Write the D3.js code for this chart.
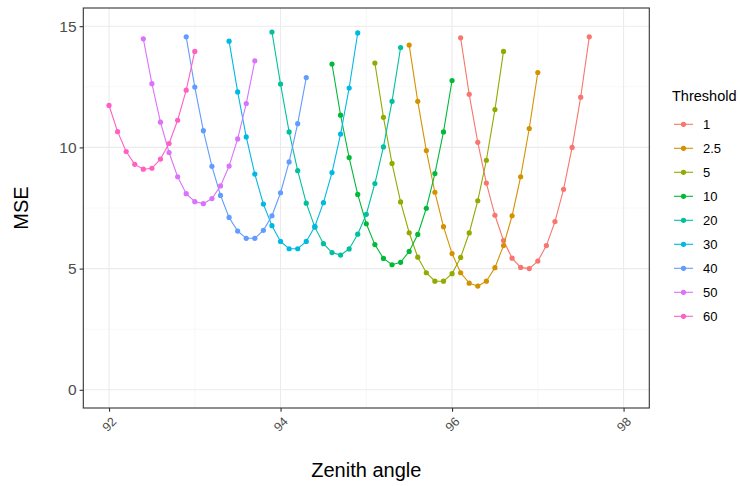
<!DOCTYPE html>
<html>
<head>
<meta charset="utf-8">
<script src="https://cdn.jsdelivr.net/npm/d3@7"></script>
<style>
  html, body { margin: 0; padding: 0; background: #fff; }
  svg { display: block; font-family: "Liberation Sans", Arial, sans-serif; }
</style>
</head>
<body>
<svg id="chart" width="740" height="486"></svg>
<script>
// Threshold levels and their colours
const thresholds = ["1", "2.5", "5", "10", "20", "30", "40", "50", "60"];
const colors = ["#F8766D", "#D39200", "#93AA00", "#00BA38", "#00C19F", "#00B9E3", "#619CFF", "#DB72FB", "#FF61C3"];

// First zenith angle of each curve (angles step by 0.1)
const startAngles = [96.1, 95.5, 95.1, 94.6, 93.9, 93.4, 92.9, 92.4, 92.0];

// MSE values along each curve
const mse1  = [14.52, 12.19, 10.21, 8.53, 7.20, 6.16, 5.43, 5.05, 5.00, 5.31, 5.95, 6.94, 8.27, 10.00, 12.07, 14.56];
const mse25 = [14.22, 11.90, 9.87, 8.15, 6.73, 5.62, 4.83, 4.40, 4.28, 4.48, 5.04, 5.95, 7.18, 8.79, 10.78, 13.09];
const mse5  = [13.48, 11.24, 9.34, 7.75, 6.48, 5.47, 4.83, 4.48, 4.48, 4.79, 5.46, 6.47, 7.80, 9.47, 11.56, 13.96];
const mse10 = [13.44, 11.33, 9.58, 8.06, 6.85, 5.99, 5.42, 5.16, 5.26, 5.71, 6.41, 7.49, 8.92, 10.64, 12.76];
const mse20 = [14.76, 12.61, 10.64, 9.04, 7.70, 6.71, 6.03, 5.66, 5.56, 5.81, 6.42, 7.24, 8.51, 10.02, 11.90, 14.12];
const mse30 = [14.38, 12.29, 10.43, 8.90, 7.66, 6.77, 6.12, 5.82, 5.82, 6.12, 6.74, 7.72, 8.96, 10.55, 12.45, 14.72];
const mse40 = [14.56, 12.49, 10.69, 9.22, 8.02, 7.11, 6.55, 6.25, 6.25, 6.58, 7.18, 8.13, 9.40, 10.98, 12.88];
const mse50 = [14.48, 12.63, 11.04, 9.79, 8.79, 8.09, 7.76, 7.68, 7.89, 8.41, 9.23, 10.35, 11.81, 13.57];
const mse60 = [11.73, 10.65, 9.83, 9.30, 9.10, 9.14, 9.52, 10.16, 11.12, 12.36, 13.96];

const mseValues = [mse1, mse25, mse5, mse10, mse20, mse30, mse40, mse50, mse60];

// Axis ticks
const xTicks = [92, 94, 96, 98];
const xMinor = [93, 95, 97];
const yTicks = [0, 5, 10, 15];
const yMinor = [2.5, 7.5, 12.5];

const series = thresholds.map((t, i) => ({
  name: t,
  color: colors[i],
  points: mseValues[i].map((v, j) => ({ x: +(startAngles[i] + j * 0.1).toFixed(1), y: v }))
}));

const svg = d3.select("#chart");
const panel = { left: 83.3, right: 649.3, top: 8, bottom: 408 };

const x = d3.scaleLinear().domain([91.7, 98.3]).range([panel.left, panel.right]);
const y = d3.scaleLinear().domain([-0.75, 15.75]).range([panel.bottom, panel.top]);

// Panel background and grid
svg.append("rect")
  .attr("x", panel.left).attr("y", panel.top)
  .attr("width", panel.right - panel.left).attr("height", panel.bottom - panel.top)
  .attr("fill", "#fff");

const grid = svg.append("g");
grid.selectAll(".xminor").data(xMinor).join("line")
  .attr("x1", d => x(d)).attr("x2", d => x(d))
  .attr("y1", panel.top).attr("y2", panel.bottom)
  .attr("stroke", "#f2f2f2").attr("stroke-width", 0.55);
grid.selectAll(".yminor").data(yMinor).join("line")
  .attr("y1", d => y(d)).attr("y2", d => y(d))
  .attr("x1", panel.left).attr("x2", panel.right)
  .attr("stroke", "#f2f2f2").attr("stroke-width", 0.55);
grid.selectAll(".xmajor").data(xTicks).join("line")
  .attr("x1", d => x(d)).attr("x2", d => x(d))
  .attr("y1", panel.top).attr("y2", panel.bottom)
  .attr("stroke", "#ebebeb").attr("stroke-width", 1.1);
grid.selectAll(".ymajor").data(yTicks).join("line")
  .attr("y1", d => y(d)).attr("y2", d => y(d))
  .attr("x1", panel.left).attr("x2", panel.right)
  .attr("stroke", "#ebebeb").attr("stroke-width", 1.1);

// Curves and points
const line = d3.line().x(d => x(d.x)).y(d => y(d.y));
const layer = svg.append("g");
series.forEach(s => {
  layer.append("path")
    .datum(s.points)
    .attr("d", line)
    .attr("fill", "none")
    .attr("stroke", s.color)
    .attr("stroke-width", 1.1);
  layer.selectAll(null).data(s.points).join("circle")
    .attr("cx", d => x(d.x)).attr("cy", d => y(d.y))
    .attr("r", 2.6)
    .attr("fill", s.color);
});

// Panel border
svg.append("rect")
  .attr("x", panel.left).attr("y", panel.top)
  .attr("width", panel.right - panel.left).attr("height", panel.bottom - panel.top)
  .attr("fill", "none").attr("stroke", "#333333").attr("stroke-width", 1.1);

// Y axis
const yAxis = svg.append("g")
  .attr("transform", `translate(${panel.left},0)`)
  .call(d3.axisLeft(y).tickValues(yTicks).tickSize(3.7).tickPadding(3).tickFormat(d3.format("d")));
yAxis.select(".domain").remove();
yAxis.selectAll(".tick line").attr("stroke", "#333333").attr("stroke-width", 1.1);
yAxis.selectAll(".tick text")
  .attr("fill", "#4d4d4d")
  .style("font-size", "15.5px")
  .style("font-family", "'Liberation Sans', Arial, sans-serif");

// X axis
const xAxis = svg.append("g")
  .attr("transform", `translate(0,${panel.bottom})`)
  .call(d3.axisBottom(x).tickValues(xTicks).tickSize(3.7).tickFormat(d3.format("d")));
xAxis.select(".domain").remove();
xAxis.selectAll(".tick line").attr("stroke", "#333333").attr("stroke-width", 1.1);
xAxis.selectAll(".tick text")
  .attr("fill", "#4d4d4d")
  .attr("y", 0).attr("dy", null)
  .attr("text-anchor", "middle")
  .attr("dominant-baseline", "central")
  .attr("transform", "translate(0,16.5) rotate(-45)")
  .style("font-size", "12.5px")
  .style("font-family", "'Liberation Sans', Arial, sans-serif");

// Axis titles
svg.append("text")
  .attr("x", (panel.left + panel.right) / 2).attr("y", 477)
  .attr("text-anchor", "middle")
  .attr("fill", "#000")
  .style("font-size", "20px")
  .text("Zenith angle");

svg.append("text")
  .attr("transform", `translate(28,${(panel.top + panel.bottom) / 2}) rotate(-90)`)
  .attr("text-anchor", "middle")
  .attr("fill", "#000")
  .style("font-size", "20px")
  .text("MSE");

// Legend
const legend = svg.append("g").attr("transform", "translate(672,0)");
legend.append("text")
  .attr("x", 0).attr("y", 101)
  .attr("fill", "#000")
  .style("font-size", "14.5px")
  .text("Threshold");

const rowY = d3.scalePoint().domain(thresholds).range([124.3, 316.3]);
const rows = legend.selectAll(".row").data(series).join("g")
  .attr("transform", d => `translate(0,${rowY(d.name)})`);
rows.append("line")
  .attr("x1", 2).attr("x2", 21)
  .attr("stroke", d => d.color).attr("stroke-width", 1.1);
rows.append("circle")
  .attr("cx", 11.5).attr("r", 2.6)
  .attr("fill", d => d.color);
rows.append("text")
  .attr("x", 31).attr("y", 0)
  .attr("dominant-baseline", "central")
  .attr("fill", "#000")
  .style("font-size", "13px")
  .text(d => d.name);
</script>
</body>
</html>
